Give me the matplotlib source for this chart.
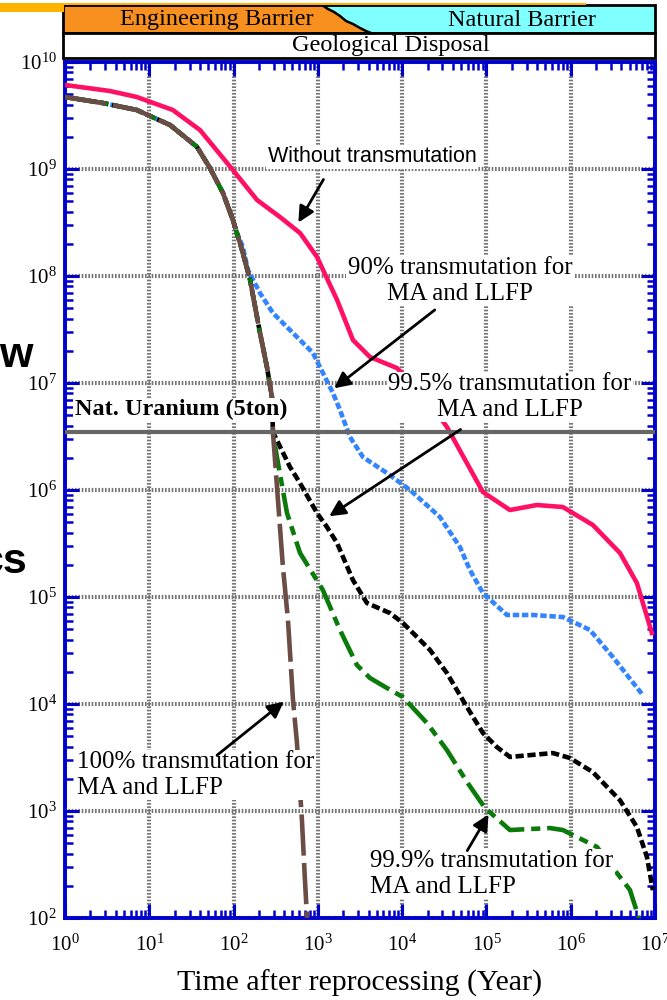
import matplotlib
matplotlib.use('Agg')
import matplotlib.pyplot as plt
from matplotlib.patches import Polygon, Rectangle
from matplotlib.ticker import LogLocator, NullFormatter

plt.rcParams['font.family'] = 'Liberation Serif'
plt.rcParams['mathtext.fontset'] = 'custom'
plt.rcParams['mathtext.rm'] = 'Liberation Serif'

# radiotoxicity curves (years, value)
early_years = [1, 2.8, 7.1, 17.6, 36.8, 52.5, 74.8, 98.4, 126, 157, 206, 249, 285, 293]
early_vals = [4.71e9, 4.14e9, 3.56e9, 2.58e9, 1.61e9, 1.02e9, 5.97e8, 3.33e8, 1.75e8,
              9.18e7, 2.93e7, 1.41e7, 7.4e6, 3.48e6]

red_years = [1, 3.4, 7.1, 19, 40, 98, 190, 355, 615, 975, 1690, 2610, 4150, 8670,
             17800, 34000, 90800, 190000, 397000, 807000, 1830000, 3840000, 6100000, 9180000]
red_vals = [6.1e9, 5.36e9, 4.71e9, 3.56e9, 2.31e9, 9.8e8, 5.13e8, 3.56e8, 2.52e8, 1.51e8,
            5.97e7, 2.52e7, 1.75e7, 1.38e7, 7.9e6, 3.88e6, 9.57e5, 6.5e5, 7.24e5, 6.93e5,
            4.71e5, 2.58e5, 1.35e5, 4.61e4]

blue_years = [1, 2.8, 7.1, 17.6, 36.8, 52.5, 74.8, 98.4, 110, 129, 148, 206, 293, 507, 875,
              1148, 1510, 1828, 2404, 3428, 6607, 12400, 28000, 48500, 63700, 90800, 175000,
              356000, 807000, 1690000, 3160000, 7180000]
blue_vals = [4.71e9, 4.14e9, 3.56e9, 2.58e9, 1.61e9, 1.02e9, 5.97e8, 3.33e8, 2.51e8, 1.86e8,
             1.14e8, 6.92e7, 4.51e7, 2.93e7, 1.91e7, 1.24e7, 8.07e6, 5.6e6, 3.13e6, 2.03e6,
             1.44e6, 1.0e6, 5.6e5, 2.93e5, 1.79e5, 1.09e5, 6.79e4, 6.79e4, 6.5e4, 4.92e4,
             2.75e4, 1.21e4]

black_years = [467, 614, 975, 1282, 1687, 2606, 3819, 7161, 10230, 21400, 33900, 58700, 90800,
               133000, 190000, 615000, 977000, 1830000, 3840000, 6100000, 8020000, 9440000]
black_vals = [1.64e6, 1.16e6, 6.1e5, 4.51e5, 3.2e5, 1.44e5, 8.79e4, 7.08e4, 5.71e4, 3.2e4,
              1.95e4, 9.38e3, 5.36e3, 3.96e3, 3.2e3, 3.48e3, 3.13e3, 2.31e3, 1.26e3, 708, 372, 182]

green_years = [327, 430, 614, 1148, 1828, 2911, 4150, 6607, 10230, 19700, 33900, 58700, 95900,
               190000, 566000, 807000, 2050000, 5040000, 6270000, 6800000]
green_vals = [2.03e6, 6.1e5, 2.58e5, 1.16e5, 4.92e4, 2.31e4, 1.75e4, 1.41e4, 1.16e4, 6.64e3,
              3.72e3, 1.87e3, 1.07e3, 664, 693, 664, 461, 183, 107, 85]

brown_years = [385, 442, 507, 565, 647, 703, 743, 760]
brown_vals = [1.91e5, 6.1e4, 1.09e4, 4.33e3, 824, 226, 102, 80]

nat_uranium = 3.5e6

fig = plt.figure(figsize=(6.67, 10), dpi=100)
ax = fig.add_axes([65/667, 82/1000, 590/667, 856/1000])
ax.set_xscale('log')
ax.set_yscale('log')
ax.set_xlim(1, 1e7)
ax.set_ylim(1e2, 1e10)

lw = 3.3
ax.plot(red_years, red_vals, color='#FF1064', lw=lw, zorder=3)
ax.plot(blue_years, blue_vals, color='#3385FF', lw=lw, ls=(0, (1.4, 0.6)), zorder=3)
ax.plot(early_years + black_years, early_vals + black_vals, color='black', lw=lw,
        ls=(0, (1.8, 0.8)), zorder=3)
ax.plot(early_years + green_years, early_vals + green_vals, color='#0A7A0A', lw=lw,
        ls=(0, (6, 1.5, 2, 1.5)), zorder=3)
ax.plot(early_years + brown_years, early_vals + brown_vals, color='#6B4D45', lw=lw,
        ls=(0, (9, 1.6)), zorder=3)
ax.axhline(nat_uranium, color='#666666', lw=3, zorder=3)

# axes styling
blue = '#0000CC'
for s in ax.spines.values():
    s.set_color(blue)
    s.set_linewidth(2.8)
ax.set_xticks([1, 1e1, 1e2, 1e3, 1e4, 1e5, 1e6, 1e7])
ax.set_yticks([1e2, 1e3, 1e4, 1e5, 1e6, 1e7, 1e8, 1e9, 1e10])
ax.xaxis.set_minor_locator(LogLocator(subs=range(2, 10), numticks=20))
ax.yaxis.set_minor_locator(LogLocator(subs=range(2, 10), numticks=20))
ax.xaxis.set_minor_formatter(NullFormatter())
ax.yaxis.set_minor_formatter(NullFormatter())
ax.tick_params(which='both', direction='in', top=True, right=True, color=blue,
               labelsize=15)
ax.tick_params(axis='x', pad=12)
ax.tick_params(axis='y', pad=6)
ax.tick_params(which='major', length=10, width=2.2)
ax.tick_params(which='minor', length=6, width=1.8)
ax.grid(which='major', color='#777777', lw=3, ls=(0, (0.4, 0.4)))
ax.set_axisbelow(True)
ax.set_xlabel('Time after reprocessing (Year)', fontsize=21.5, labelpad=10)

box = dict(facecolor='white', edgecolor='none', pad=1)
arrow = dict(arrowstyle='-|>', color='black', lw=2, mutation_scale=24)

ax.text(4.4e3, 1.3e9, 'Without transmutation', family='Liberation Sans', fontsize=15.5,
        ha='center', va='center', bbox=box, zorder=5)
ax.annotate('', xy=(565, 3.0e8), xytext=(1.21e3, 8.4e8), arrowprops=arrow, zorder=6)

ax.text(4.85e4, 9.0e7, '90% transmutation for\nMA and LLFP', fontsize=18,
        ha='center', va='center', bbox=box, zorder=5)
ax.annotate('', xy=(1.47e3, 8.6e6), xytext=(2.59e4, 5.0e7), arrowprops=arrow, zorder=6)

ax.text(1.9e5, 7.4e6, '99.5% transmutation for\nMA and LLFP', fontsize=18,
        ha='center', va='center', bbox=box, zorder=5)
ax.annotate('', xy=(1.28e3, 5.5e5), xytext=(5.26e4, 3.8e6), arrowprops=arrow, zorder=6)

ax.text(1.39, 2.17e3, '100% transmutation for\nMA and LLFP', fontsize=18,
        ha='left', va='center', bbox=box, zorder=5)
ax.annotate('', xy=(418, 1.09e4), xytext=(60, 3.2e3), arrowprops=arrow, zorder=6)

ax.text(4.15e3, 258, '99.9% transmutation for\nMA and LLFP', fontsize=18,
        ha='left', va='center', bbox=box, zorder=5)
ax.annotate('', xy=(1.1e5, 977), xytext=(5.7e4, 405), arrowprops=arrow, zorder=6)

ax.text(1.31, 5.6e6, 'Nat. Uranium (5ton)', fontsize=17.5, fontweight='bold',
        ha='left', va='center', bbox=box, zorder=5)

# banner and slide fragments in pixel coordinates
ov = fig.add_axes([0, 0, 1, 1], facecolor='none')
ov.set_xlim(0, 667)
ov.set_ylim(1000, 0)
ov.axis('off')

jag = [(322, 5), (328, 9), (334, 12), (340, 16), (346, 21), (353, 24), (360, 28),
       (366, 31), (371, 33)]
ov.add_patch(Polygon([(63, 5)] + jag + [(63, 33)], closed=True, facecolor='#F7901E',
                     edgecolor='none'))
ov.add_patch(Polygon([(655, 5), (655, 33)] + jag[::-1], closed=True, facecolor='#80FFFF',
                     edgecolor='none'))
ov.plot([p[0] for p in jag], [p[1] for p in jag], color='black', lw=1.8)
ov.add_patch(Rectangle((63, 5), 592, 28, facecolor='none', edgecolor='black', lw=2))
ov.add_patch(Rectangle((63, 33), 592, 25, facecolor='white', edgecolor='black', lw=2))
ov.text(217, 20, 'Engineering Barrier', fontsize=17.5, ha='center', va='center')
ov.text(522, 20, 'Natural Barrier', fontsize=17.5, ha='center', va='center')
ov.text(391, 46, 'Geological Disposal', fontsize=17.5, ha='center', va='center')

ov.add_patch(Rectangle((0, 3), 64, 9, facecolor='#FFB300', edgecolor='none'))
ov.plot([64, 585], [4, 4], color='#FFB300', lw=1.5)

ov.text(33, 367, 'w', family='Liberation Sans', fontweight='bold', fontsize=31,
        ha='right', va='baseline')
ov.text(27, 573, 'cs', family='Liberation Sans', fontweight='bold', fontsize=31,
        ha='right', va='baseline')

fig.savefig('out.png', dpi=100)
